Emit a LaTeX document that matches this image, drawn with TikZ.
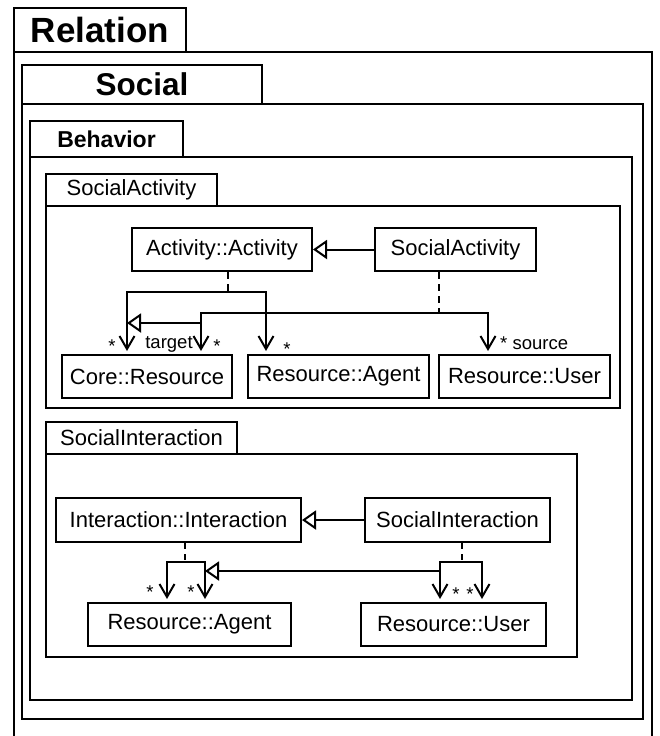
\documentclass[tikz,border=0pt]{standalone}
\usepackage{fontspec}
\setmainfont{Liberation Sans}
\usetikzlibrary{arrows.meta,calc}
\begin{document}
\begin{tikzpicture}[x=1pt,y=-1pt,
  frame/.style={line width=2.3pt},
  tab/.style={draw,line width=2.3pt,inner sep=0pt},
  cls/.style={draw,line width=2pt,minimum height=43pt,inner sep=0pt,font=\fontsize{22}{26}\selectfont},
  gen/.style={line width=2pt,-{Triangle[open,length=14pt,width=19pt]}},
  assoc/.style={line width=2pt,-{Straight Barb[length=13pt,width=15pt]},shorten >=3pt},
  dep/.style={line width=2pt,dash pattern=on 7pt off 5pt},
  lbl/.style={font=\fontsize{18.5}{20}\selectfont,inner sep=0pt,anchor=base}]
\useasboundingbox (0,0) rectangle (659,736);

% Relation frame
\draw[frame] (14,736) -- (14,52) -- (652,52) -- (652,736);
\node[tab,minimum width=172pt,minimum height=44pt,font=\bfseries\fontsize{35}{40}\selectfont] (trel) at (100,30) {Relation};
% Social frame
\draw[frame] (22,104) rectangle (643,719);
\node[tab,minimum width=240pt,minimum height=39pt,font=\bfseries\fontsize{31.5}{36}\selectfont] (tsoc) at (142,84.5) {Social};
% Behavior frame
\draw[frame] (30,157) rectangle (632,700);
\node[tab,minimum width=153pt,minimum height=36pt,font=\bfseries\fontsize{23}{27}\selectfont] (tbeh) at (106.5,139) {Behavior};
% SocialActivity package
\draw[frame] (46,206) rectangle (620,408);
\node[tab,minimum width=171pt,minimum height=32pt,font=\fontsize{22}{26}\selectfont] (tsa) at (131.5,190) {SocialActivity};
% SocialInteraction package
\draw[frame] (46,454) rectangle (577,657);
\node[tab,minimum width=191pt,minimum height=32pt,font=\fontsize{22}{26}\selectfont] (tsi) at (141.5,438) {SocialInteraction};

% ---- SocialActivity classes
\node[cls,minimum width=180pt] (aa) at (222,249.5) {Activity::Activity};
\node[cls,minimum width=161pt] (sa) at (455.5,249.5) {SocialActivity};
\node[cls,minimum width=170pt] (cr) at (147,376.5) {Core::Resource};
\node[cls,minimum width=181pt] (ra) at (338.5,376.5) {Resource::Agent};
\node[cls,minimum width=171pt] (ru) at (524.5,376.5) {Resource::User};

\draw[gen] (sa.west) -- (aa.east);

\coordinate (j1) at ([xshift=6pt,yshift=-20pt]aa.south);
\draw[dep] ([xshift=6pt]aa.south) -- (j1);
\draw[assoc] (j1) -| ([xshift=-20pt]cr.north);
\draw[assoc] (j1) -| ([xshift=-72.5pt]ra.north);

\coordinate (j2) at ([xshift=-16.5pt,yshift=-41pt]sa.south);
\draw[dep] ([xshift=-16.5pt]sa.south) -- (j2);
\draw[assoc] (j2) -| ([xshift=54pt]cr.north);
\draw[assoc] (j2) -| ([xshift=-36.5pt]ru.north);
\draw[gen] ([xshift=54pt,yshift=31pt]cr.north) -- ([xshift=-20pt,yshift=31pt]cr.north);

\node[lbl] (s1) at (112,352) {*};
\node[lbl] (tg) at (169,348) {target};
\node[lbl] (s2) at (217,352) {*};
\node[lbl] (s3) at (287,355) {*};
\node[lbl,anchor=base west] (src) at (500,349) {* source};

% ---- SocialInteraction classes
\node[cls,minimum width=245pt,minimum height=44pt] (ii) at (178.5,520) {Interaction::Interaction};
\node[cls,minimum width=185pt,minimum height=44pt] (si) at (457.5,520) {SocialInteraction};
\node[cls,minimum width=203pt] (ra2) at (189.5,624.5) {Resource::Agent};
\node[cls,minimum width=185pt] (ru2) at (453.5,624.5) {Resource::User};

\draw[gen] (si.west) -- (ii.east);

\coordinate (j3) at ([xshift=6.5pt,yshift=-19pt]ii.south);
\draw[dep,dash pattern=on 6pt off 5pt] ([xshift=6.5pt]ii.south) -- (j3);
\draw[assoc] (j3) -| ([xshift=-22.5pt]ra2.north);
\draw[assoc] (j3) -| ([xshift=15.5pt]ra2.north);

\coordinate (j4) at ([xshift=4.5pt,yshift=-19pt]si.south);
\draw[dep,dash pattern=on 6pt off 5pt] ([xshift=4.5pt]si.south) -- (j4);
\draw[assoc] (j4) -| ([xshift=-13.5pt]ru2.north);
\draw[assoc] (j4) -| ([xshift=28.5pt]ru2.north);
\draw[gen] ([xshift=-13.5pt,yshift=31pt]ru2.north) -- ([xshift=15.5pt,yshift=31pt]ra2.north);

\node[lbl] (s4) at (150,598) {*};
\node[lbl] (s5) at (191,598) {*};
\node[lbl] (s6) at (456,600) {*};
\node[lbl] (s7) at (470,600) {*};
\end{tikzpicture}
\end{document}
